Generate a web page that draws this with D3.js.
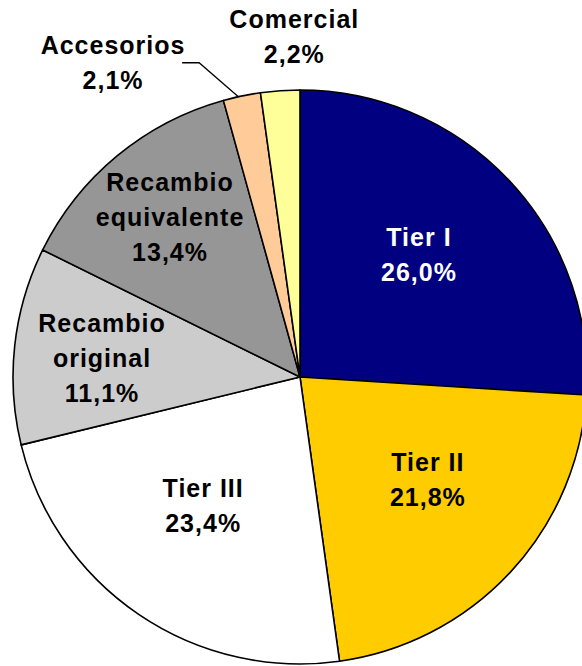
<!DOCTYPE html>
<html>
<head>
<meta charset="utf-8">
<script src="https://cdn.jsdelivr.net/npm/d3@7"></script>
<style>
  body { margin: 0; background: #fff; }
  svg text { font-family: "Liberation Sans", Arial, sans-serif; font-weight: bold; font-size: 25px; letter-spacing: 1px; }
</style>
</head>
<body>
<div id="chart"></div>
<script>
// data
var categories = ["Tier I", "Tier II", "Tier III", "Recambio original", "Recambio equivalente", "Accesorios", "Comercial"];
var shares = [26.0, 21.8, 23.4, 11.1, 13.4, 2.1, 2.2];
var labelLines = [["Tier I"], ["Tier II"], ["Tier III"], ["Recambio", "original"], ["Recambio", "equivalente"], ["Accesorios"], ["Comercial"]];

var colors = ["#000080", "#FFCC00", "#FFFFFF", "#CCCCCC", "#969696", "#FFCC99", "#FFFF99"];
var textColors = ["#fff", "#000", "#000", "#000", "#000", "#000", "#000"];

// where each label sits: fraction of radius + angle shift (deg) from slice middle
var labelK = [0.596, 0.572, 0.562, 0.693, 0.718, 1.276, 1.185];
var labelShift = [-2.75, -4, 2.7, -0.8, 0.5, -19, 3];

var width = 582, height = 666;
var cx = 300, cy = 377, radius = 287;
var lineH = 35;

var svg = d3.select("#chart")
  .append("svg")
    .attr("width", width)
    .attr("height", height)
  .append("g")
    .attr("transform", "translate(" + cx + "," + cy + ")");

var pie = d3.pie().sort(null).value(function(d) { return d; });
var arcs = pie(shares);

var arc = d3.arc().innerRadius(0).outerRadius(radius);

svg.selectAll("path.slice")
  .data(arcs)
  .enter()
  .append("path")
    .attr("class", "slice")
    .attr("d", arc)
    .style("fill", function(d, i) { return colors[i]; })
    .style("stroke", "#000")
    .style("stroke-width", 1.6)
    .style("stroke-linejoin", "round");

function polar(a, r) {
  return [Math.sin(a) * r, -Math.cos(a) * r];
}
function midAngle(d) { return (d.startAngle + d.endAngle) / 2; }
function fmt(v) { return v.toFixed(1).replace(".", ",") + "%"; }

// leader line for Accesorios
var acc = arcs[5];
var p0 = polar(midAngle(acc) - 0.7 * Math.PI / 180, radius);
var p1 = polar(midAngle(acc) - 6.1 * Math.PI / 180, radius * 1.15);
var p2 = [p1[0] - 17, p1[1]];
svg.append("path")
  .attr("d", d3.line()([p0, p1, p2]))
  .style("fill", "none")
  .style("stroke", "#000")
  .style("stroke-width", 1.3);

// labels
var labels = svg.selectAll("text.lbl")
  .data(arcs)
  .enter()
  .append("text")
    .attr("class", "lbl")
    .attr("text-anchor", "middle")
    .style("fill", function(d, i) { return textColors[i]; })
    .each(function(d, i) {
      var a = midAngle(d) + labelShift[i] * Math.PI / 180;
      var p = polar(a, radius * labelK[i]);
      var lines = labelLines[i].concat([fmt(shares[i])]);
      var t = d3.select(this);
      lines.forEach(function(s, j) {
        t.append("tspan")
          .attr("x", p[0])
          .attr("y", p[1] + (j - (lines.length - 1) / 2) * lineH)
          .attr("dy", "0.36em")
          .text(s);
      });
    });
</script>
</body>
</html>
